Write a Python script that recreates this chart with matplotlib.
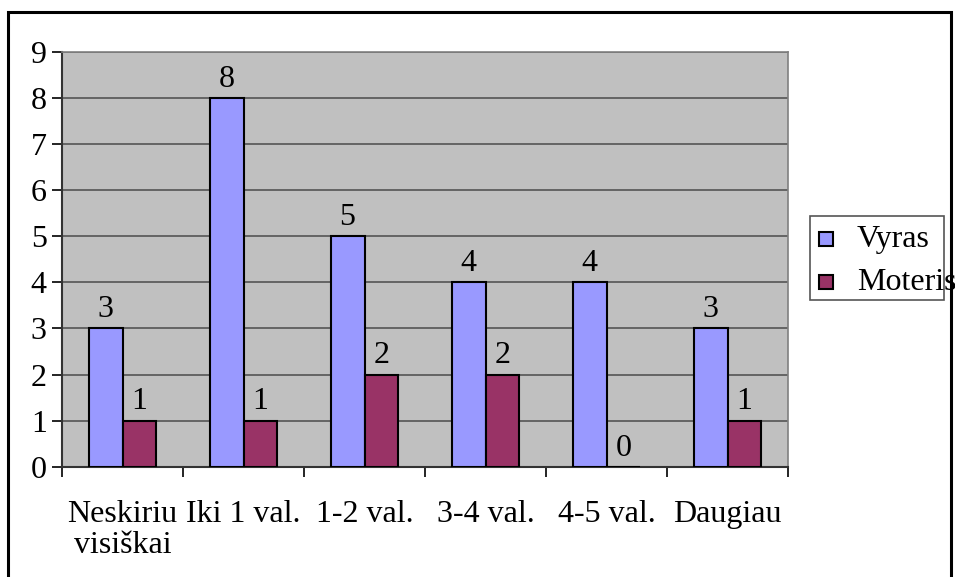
import matplotlib
matplotlib.use("Agg")
import matplotlib.pyplot as plt
import numpy as np
from matplotlib.patches import Rectangle

# data
categories = ["Neskiriu\nvisiškai", "Iki 1 val.", "1-2 val.", "3-4 val.", "4-5 val.", "Daugiau"]
vyras = [3, 8, 5, 4, 4, 3]
moteris = [1, 1, 2, 2, 0, 1]
series_names = ["Vyras", "Moteris"]
colors = ["#9999FF", "#993366"]

plt.rcParams['font.family'] = ['Liberation Serif', 'DejaVu Serif']
fs = 23

W, H = 955, 577
fig = plt.figure(figsize=(W / 100, H / 100), dpi=100)

# plot area in pixel coords -> figure fraction
x0, x1, y0, y1 = 62, 788, 52, 466.7
ax = fig.add_axes([x0 / W, 1 - y1 / H, (x1 - x0) / W, (y1 - y0) / H])
ax.set_facecolor("#C0C0C0")

x = np.arange(len(categories))
bw = 0.28
b1 = ax.bar(x - bw / 2, vyras, bw, color=colors[0], edgecolor="black", linewidth=1.5, zorder=3)
b2 = ax.bar(x + bw / 2, moteris, bw, color=colors[1], edgecolor="black", linewidth=1.5, zorder=3)

for bars, vals in [(b1, vyras), (b2, moteris)]:
    for r, v in zip(bars, vals):
        ax.annotate(str(v), (r.get_x() + r.get_width() / 2, v), xytext=(0, 3),
                    textcoords="offset points", ha="center", va="bottom", fontsize=fs)

ax.set_xlim(-0.5, len(categories) - 0.5)
ax.set_ylim(0, 9)
ax.set_yticks(range(10))
ax.yaxis.grid(True, color="#555555", linewidth=1.2, zorder=0)
ax.set_axisbelow(True)

# category boundary ticks, labels centered in between
ax.set_xticks(np.arange(len(categories) + 1) - 0.5)
ax.set_xticklabels([])
ax.set_xticks(x, minor=True)
ax.set_xticklabels(categories, minor=True, fontsize=fs, linespacing=1.1)
ax.tick_params(axis="x", which="minor", length=0, pad=24)
ax.tick_params(axis="x", which="major", length=7, width=1.2, direction="out")
ax.tick_params(axis="y", length=7, width=1.2, labelsize=fs, pad=4)

for s in ["left", "bottom"]:
    ax.spines[s].set_color("#333333")
    ax.spines[s].set_linewidth(1.5)
for s in ["top", "right"]:
    ax.spines[s].set_color("#808080")
    ax.spines[s].set_linewidth(1.2)

# outer chart border
fig.patches.append(Rectangle((7.5 / W, -0.1), 943.5 / W, 1.1 - 11.5 / H, transform=fig.transFigure,
                             fill=False, edgecolor="black", linewidth=2.2))

# legend box
lx0, lx1, ly0, ly1 = 810, 944, 216, 300
fig.patches.append(Rectangle((lx0 / W, 1 - ly1 / H), (lx1 - lx0) / W, (ly1 - ly0) / H,
                             transform=fig.transFigure, fill=False, edgecolor="#555555", linewidth=1.2))
for name, c, cy in zip(series_names, colors, [239, 282]):
    fig.patches.append(Rectangle((819 / W, 1 - (cy + 7) / H), 14 / W, 14 / H, transform=fig.transFigure,
                                 facecolor=c, edgecolor="black", linewidth=1.5))
    fig.text(857 / W, 1 - cy / H, name, fontsize=fs, va="center", ha="left")

fig.savefig("out.png", dpi=100)
